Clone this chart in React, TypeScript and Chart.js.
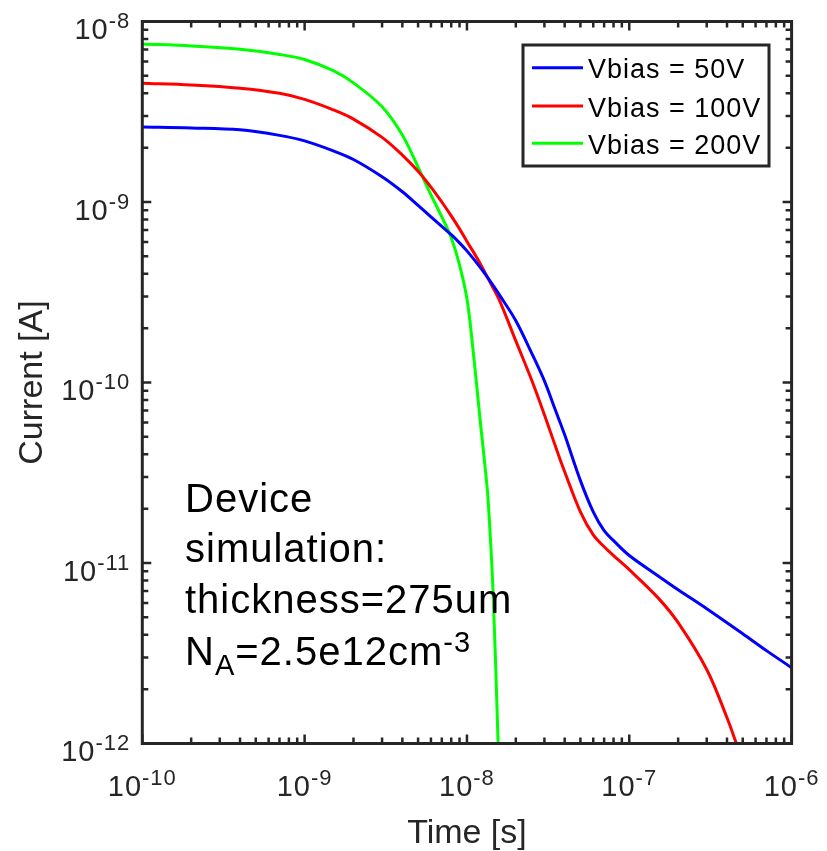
import React, { useEffect, useRef } from "react";
import { Chart, registerables } from "chart.js";

Chart.register(...registerables);

// Transient current after the pulse, three bias voltages (log–log).
const seriesLabels = ["Vbias = 50V", "Vbias = 100V", "Vbias = 200V"];
const seriesColors = ["#0000ff", "#ff0000", "#00ff00"];

// Time [s]
const time50V = [
  1e-10, 2e-10, 4e-10, 7e-10, 1e-9, 1.5e-9, 2e-9, 3e-9, 4e-9, 5e-9, 6e-9, 7e-9, 8e-9, 9e-9,
  1e-8, 1.2e-8, 1.4e-8, 1.6e-8, 2e-8, 2.5e-8, 3e-8, 3.5e-8, 4e-8, 5e-8, 6e-8, 7e-8, 8e-8,
  1e-7, 1.5e-7, 2e-7, 3e-7, 4e-7, 5e-7, 7e-7, 1e-6,
];
// Current [A]
const current50V = [
  2.6e-9, 2.57e-9, 2.51e-9, 2.34e-9, 2.18e-9, 1.92e-9, 1.72e-9, 1.38e-9, 1.14e-9, 9.58e-10,
  8.27e-10, 7.33e-10, 6.59e-10, 5.94e-10, 5.36e-10, 4.37e-10, 3.61e-10, 3.02e-10, 2.2e-10,
  1.46e-10, 1.02e-10, 7.06e-11, 5.13e-11, 2.86e-11, 1.92e-11, 1.51e-11, 1.33e-11, 1.1e-11,
  8.51e-12, 7.11e-12, 5.58e-12, 4.67e-12, 4.06e-12, 3.27e-12, 2.63e-12,
];

const time100V = [
  1e-10, 2e-10, 4e-10, 7e-10, 1e-9, 1.5e-9, 2e-9, 3e-9, 4e-9, 5e-9, 6e-9, 7e-9, 8e-9, 9e-9,
  1e-8, 1.2e-8, 1.4e-8, 1.6e-8, 2e-8, 2.5e-8, 3e-8, 3.5e-8, 4e-8, 5e-8, 6e-8, 7e-8, 8e-8,
  1e-7, 1.5e-7, 2e-7, 3e-7, 4e-7, 4.57e-7,
];
const current100V = [
  4.55e-9, 4.45e-9, 4.27e-9, 4.0e-9, 3.7e-9, 3.24e-9, 2.88e-9, 2.28e-9, 1.82e-9, 1.48e-9,
  1.21e-9, 1.0e-9, 8.38e-10, 7.1e-10, 6.05e-10, 4.6e-10, 3.54e-10, 2.8e-10, 1.7e-10,
  1.035e-10, 6.63e-11, 4.46e-11, 3.2e-11, 1.92e-11, 1.43e-11, 1.23e-11, 1.1e-11, 9.18e-12,
  6.43e-12, 4.67e-12, 2.57e-12, 1.39e-12, 1.0e-12,
];

const time200V = [
  1e-10, 2e-10, 4e-10, 7e-10, 1e-9, 1.5e-9, 2e-9, 3e-9, 4e-9, 5e-9, 6e-9, 7e-9, 8e-9, 9e-9,
  1e-8, 1.09e-8, 1.2e-8, 1.289e-8, 1.35e-8, 1.449e-8, 1.556e-8,
];
const current200V = [
  7.51e-9, 7.32e-9, 7.02e-9, 6.57e-9, 6.16e-9, 5.34e-9, 4.57e-9, 3.37e-9, 2.35e-9, 1.56e-9,
  1.095e-9, 8.27e-10, 6.33e-10, 4.49e-10, 2.91e-10, 1.52e-10, 6.46e-11, 3.5e-11, 2.24e-11,
  6.85e-12, 1.0e-12,
];

// Axis decades (exponents of ten)
const xDecades = [-10, -9, -8, -7, -6];
const yDecades = [-12, -11, -10, -9, -8];

const xTitle = "Time [s]";
const yTitle = "Current [A]";
const noteLines = ["Device", "simulation:", "thickness=275um"];

const AXIS_COLOR = "#262626";
const FONT = "'Liberation Sans', Arial, Helvetica, sans-serif";

function toPoints(t: number[], c: number[]) {
  return t.map((v, i) => ({ x: v, y: c[i] }));
}

function setSpacing(ctx: any, px: number) {
  if ("letterSpacing" in ctx) ctx.letterSpacing = `${px}px`;
}

// Draws "10" with a raised exponent; align: 'right' or 'center'
function drawPower(
  ctx: CanvasRenderingContext2D,
  exp: number,
  x: number,
  baseline: number,
  align: "right" | "center"
) {
  const base = "10";
  const sup = String(exp);
  setSpacing(ctx, 1);
  ctx.font = `29px ${FONT}`;
  const wb = ctx.measureText(base).width;
  ctx.font = `22px ${FONT}`;
  const ws = ctx.measureText(sup).width;
  const total = wb + ws;
  const left = align === "right" ? x - total : x - total / 2;
  ctx.textAlign = "left";
  ctx.textBaseline = "alphabetic";
  ctx.font = `29px ${FONT}`;
  ctx.fillText(base, left, baseline);
  ctx.font = `22px ${FONT}`;
  ctx.fillText(sup, left + wb, baseline - 11);
  setSpacing(ctx, 0);
}

const decorPlugin = {
  id: "decor",
  afterDatasetsDraw(chart: any) {
    const { ctx, chartArea: a, scales } = chart;
    const xs = scales.x;
    const ys = scales.y;
    ctx.save();
    ctx.strokeStyle = AXIS_COLOR;
    ctx.fillStyle = AXIS_COLOR;

    // tick marks on all four sides, pointing inward
    ctx.lineWidth = 2.5;
    ctx.beginPath();
    for (let d = 0; d < xDecades.length; d++) {
      for (let m = 1; m <= 9; m++) {
        if (d === xDecades.length - 1 && m > 1) break;
        const v = m * Math.pow(10, xDecades[d]);
        const px = xs.getPixelForValue(v);
        const len = m === 1 ? 9 : 6;
        ctx.moveTo(px, a.bottom);
        ctx.lineTo(px, a.bottom - len);
        ctx.moveTo(px, a.top);
        ctx.lineTo(px, a.top + len);
      }
    }
    for (let d = 0; d < yDecades.length; d++) {
      for (let m = 1; m <= 9; m++) {
        if (d === yDecades.length - 1 && m > 1) break;
        const v = m * Math.pow(10, yDecades[d]);
        const py = ys.getPixelForValue(v);
        const len = m === 1 ? 9 : 6;
        ctx.moveTo(a.left, py);
        ctx.lineTo(a.left + len, py);
        ctx.moveTo(a.right, py);
        ctx.lineTo(a.right - len, py);
      }
    }
    ctx.stroke();

    // box
    ctx.lineWidth = 3;
    ctx.strokeRect(a.left, a.top, a.right - a.left, a.bottom - a.top);

    // tick labels
    ctx.fillStyle = AXIS_COLOR;
    for (const e of xDecades) {
      const px = xs.getPixelForValue(Math.pow(10, e));
      drawPower(ctx, e, px, a.bottom + 52.5, "center");
    }
    for (const e of yDecades) {
      const py = ys.getPixelForValue(Math.pow(10, e));
      drawPower(ctx, e, a.left - 12, py + 17.5, "right");
    }

    // axis titles
    ctx.font = `34px ${FONT}`;
    ctx.textAlign = "center";
    ctx.textBaseline = "alphabetic";
    ctx.fillText(xTitle, (a.left + a.right) / 2, 843);
    ctx.save();
    ctx.translate(42, (a.top + a.bottom) / 2);
    ctx.rotate(-Math.PI / 2);
    ctx.fillText(yTitle, 0, 0);
    ctx.restore();

    // legend box
    const lx = 523, ly = 45, lw = 246, lh = 121;
    ctx.fillStyle = "#ffffff";
    ctx.fillRect(lx, ly, lw, lh);
    ctx.lineWidth = 3;
    ctx.strokeStyle = AXIS_COLOR;
    ctx.strokeRect(lx, ly, lw, lh);
    const rows = [67.7, 106, 143.3];
    chart.data.datasets.forEach((ds: any, i: number) => {
      ctx.strokeStyle = ds.borderColor;
      ctx.lineWidth = 3;
      ctx.beginPath();
      ctx.moveTo(532, rows[i]);
      ctx.lineTo(583, rows[i]);
      ctx.stroke();
      ctx.fillStyle = "#000000";
      ctx.font = `27px ${FONT}`;
      setSpacing(ctx, 1);
      ctx.textAlign = "left";
      ctx.textBaseline = "alphabetic";
      ctx.fillText(ds.label, 588, rows[i] + 10.5);
      setSpacing(ctx, 0);
    });

    // annotation
    ctx.fillStyle = "#000000";
    ctx.textAlign = "left";
    ctx.textBaseline = "alphabetic";
    setSpacing(ctx, 1);
    const noteFont = `40px ${FONT}`;
    const smallFont = `29px ${FONT}`;
    const baselines = [511.7, 561.7, 613, 665];
    ctx.font = noteFont;
    noteLines.forEach((s, i) => ctx.fillText(s, 185, baselines[i]));
    let cx = 185;
    const b = baselines[3];
    ctx.font = noteFont;
    ctx.fillText("N", cx, b);
    cx += ctx.measureText("N").width;
    ctx.font = smallFont;
    ctx.fillText("A", cx, b + 10);
    cx += ctx.measureText("A").width;
    ctx.font = noteFont;
    ctx.fillText("=2.5e12cm", cx, b);
    cx += ctx.measureText("=2.5e12cm").width;
    ctx.font = smallFont;
    ctx.fillText("-3", cx, b - 13);
    setSpacing(ctx, 0);

    ctx.restore();
  },
};

export default function App() {
  const ref = useRef<HTMLCanvasElement | null>(null);

  useEffect(() => {
    document.body.style.margin = "0";
    const canvas = ref.current;
    if (!canvas) return;
    const times = [time50V, time100V, time200V];
    const currents = [current50V, current100V, current200V];
    const chart = new Chart(canvas, {
      type: "line",
      data: {
        datasets: seriesLabels.map((label, i) => ({
          label,
          data: toPoints(times[i], currents[i]),
          borderColor: seriesColors[i],
          backgroundColor: seriesColors[i],
          borderWidth: 3,
          pointRadius: 0,
          tension: 0.35,
          fill: false,
        })),
      },
      options: {
        responsive: false,
        devicePixelRatio: 1,
        animation: false,
        events: [],
        layout: { padding: { top: 21.5, right: 35.4, left: 0, bottom: 0 } },
        plugins: { legend: { display: false }, tooltip: { enabled: false } },
        scales: {
          x: {
            type: "logarithmic",
            min: 1e-10,
            max: 1e-6,
            ticks: { display: false },
            grid: { display: false },
            border: { display: false },
            afterFit: (s: any) => {
              s.height = 107.5;
            },
          },
          y: {
            type: "logarithmic",
            min: 1e-12,
            max: 1e-8,
            ticks: { display: false },
            grid: { display: false },
            border: { display: false },
            afterFit: (s: any) => {
              s.width = 142.3;
            },
          },
        },
      },
      plugins: [decorPlugin],
    });
    return () => chart.destroy();
  }, []);

  return (
    <div style={{ width: 827, height: 851, background: "#ffffff" }}>
      <canvas ref={ref} width={827} height={851} style={{ display: "block" }} />
    </div>
  );
}
